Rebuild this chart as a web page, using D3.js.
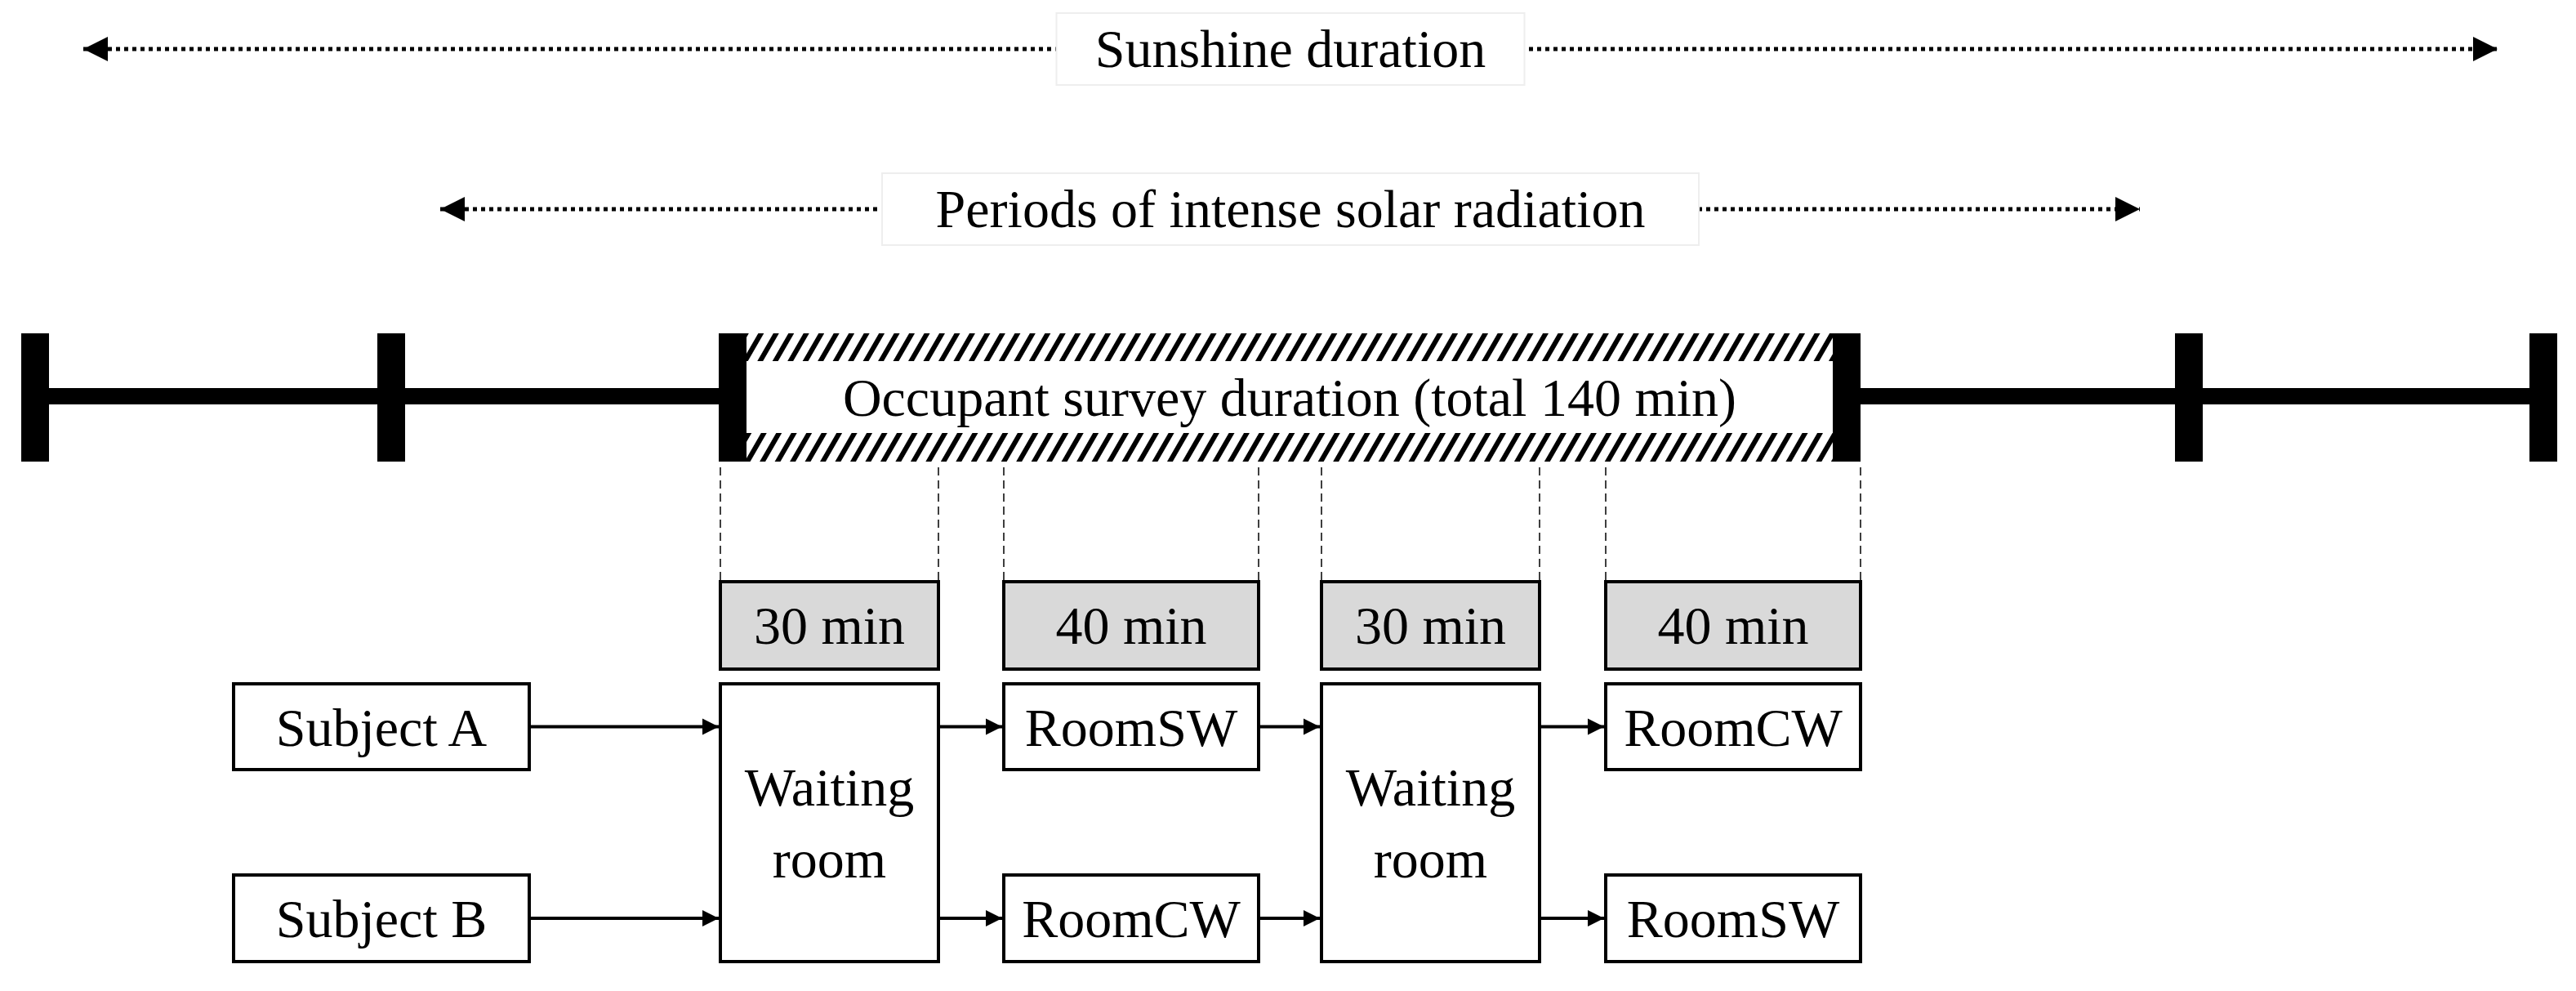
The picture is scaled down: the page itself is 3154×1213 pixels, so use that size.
<!DOCTYPE html>
<html>
<head>
<meta charset="utf-8">
<script src="https://cdn.jsdelivr.net/npm/d3@7"></script>
<style>
  body { margin: 0; background: #fff; }
  text { font-family: 'Liberation Serif', 'Times New Roman', serif; fill: #000; }
</style>
</head>
<body>
<svg id="chart" width="3154" height="1213"></svg>
<script>
// diagram content
var spans = [
  {label: "Sunshine duration", from: 0, to: 6},
  {label: "Periods of intense solar radiation", from: 1, to: 5}
];
var timelineTicks = [0, 1, 2, 3, 4, 5];
var surveyLabel = "Occupant survey duration (total 140 min)";
var phaseMinutes = [30, 40, 30, 40];
var subjects = ["Subject A", "Subject B"];
var roomsA = ["RoomSW", "RoomCW"];
var roomsB = ["RoomCW", "RoomSW"];

var svg = d3.select("#chart");
var S = 2.012;
var FS = 66;

var tx = d3.scaleLinear().domain([0, 5]).range([43, 3114]);
// ticks are not evenly spaced in the picture
var tickX = [43, 479, 897, 2261, 2680, 3114];
var spanX = {0: 62, 6: 3098, 1: 499, 5: 2660};

var defs = svg.append("defs");
defs.append("marker").attr("id", "tri").attr("viewBox", "0 0 10 10")
  .attr("refX", 10).attr("refY", 5).attr("markerWidth", 6).attr("markerHeight", 6)
  .attr("markerUnits", "strokeWidth").attr("orient", "auto-start-reverse")
  .append("path").attr("d", "M0,0L10,5L0,10Z").attr("fill", "#000");
defs.append("marker").attr("id", "tri2").attr("viewBox", "0 0 10 10")
  .attr("refX", 10).attr("refY", 5).attr("markerWidth", 5).attr("markerHeight", 6)
  .attr("markerUnits", "strokeWidth").attr("orient", "auto")
  .append("path").attr("d", "M0,0L10,5L0,10Z").attr("fill", "#000");
var pat = defs.append("pattern").attr("id", "hatch").attr("patternUnits", "userSpaceOnUse")
  .attr("width", 16).attr("height", 16).attr("patternTransform", "rotate(30)");
pat.append("rect").attr("width", 16).attr("height", 16).attr("fill", "#fff");
pat.append("rect").attr("width", 6).attr("height", 16).attr("fill", "#000");

// dotted spans
var spanY = [60, 256], boxW = [573, 1000];
spans.forEach(function(s, i) {
  var x1 = spanX[s.from], x2 = spanX[s.to], y = spanY[i];
  svg.append("line").attr("x1", x1 + 40).attr("x2", x2 - 40).attr("y1", y).attr("y2", y)
    .attr("stroke", "#000").attr("stroke-width", 5).attr("stroke-dasharray", "5,5")
    .attr("marker-start", "url(#tri)").attr("marker-end", "url(#tri)");
  var cx = 1580;
  svg.append("rect").attr("x", cx - boxW[i] / 2).attr("y", y - 44).attr("width", boxW[i]).attr("height", 88)
    .attr("fill", "#fff").attr("stroke", "#eee").attr("stroke-width", 2);
  svg.append("text").attr("x", cx).attr("y", y + 22).attr("text-anchor", "middle")
    .attr("font-size", FS).text(s.label);
});

// timeline
var ly = 485;
svg.append("line").attr("x1", tickX[0]).attr("x2", tickX[5]).attr("y1", ly).attr("y2", ly)
  .attr("stroke", "#000").attr("stroke-width", 20);
svg.append("rect").attr("x", tickX[2]).attr("y", 408).attr("width", tickX[3] - tickX[2]).attr("height", 157)
  .attr("fill", "url(#hatch)");
svg.append("rect").attr("x", tickX[2]).attr("y", 442).attr("width", tickX[3] - tickX[2]).attr("height", 88)
  .attr("fill", "#fff");
svg.append("text").attr("x", (tickX[2] + tickX[3]) / 2).attr("y", 509).attr("text-anchor", "middle")
  .attr("font-size", FS).text(surveyLabel);
svg.selectAll("rect.tick").data(tickX).enter().append("rect").attr("class", "tick")
  .attr("x", function(d) { return d - 17; }).attr("y", 408).attr("width", 34).attr("height", 157)
  .attr("fill", "#000");

// phases: position by cumulative minutes, with gaps between boxes
var phaseX = [[882, 1149], [1229, 1541], [1618, 1885], [1966, 2278]];
var gy = 712, gh = 107;
phaseMinutes.forEach(function(m, i) {
  var p = phaseX[i];
  [p[0], p[1]].forEach(function(x) {
    svg.append("line").attr("x1", x).attr("x2", x).attr("y1", 572).attr("y2", gy)
      .attr("stroke", "#000").attr("stroke-width", 1.5).attr("stroke-dasharray", "10,6");
  });
  svg.append("rect").attr("x", p[0]).attr("y", gy).attr("width", p[1] - p[0]).attr("height", gh)
    .attr("fill", "#d9d9d9").attr("stroke", "#000").attr("stroke-width", 4);
  svg.append("text").attr("x", (p[0] + p[1]) / 2).attr("y", gy + 76).attr("text-anchor", "middle")
    .attr("font-size", FS).text(m + " min");
});

function box(x1, x2, y1, y2, lines) {
  svg.append("rect").attr("x", x1).attr("y", y1).attr("width", x2 - x1).attr("height", y2 - y1)
    .attr("fill", "#fff").attr("stroke", "#000").attr("stroke-width", 4);
  var cy = (y1 + y2) / 2, lh = 88;
  lines.forEach(function(t, k) {
    svg.append("text").attr("x", (x1 + x2) / 2)
      .attr("y", cy + 23 + (k - (lines.length - 1) / 2) * lh)
      .attr("text-anchor", "middle").attr("font-size", FS).text(t);
  });
}
function arrow(x1, x2, y) {
  svg.append("line").attr("x1", x1).attr("x2", x2 - 2).attr("y1", y).attr("y2", y)
    .attr("stroke", "#000").attr("stroke-width", 4).attr("marker-end", "url(#tri2)");
}

var rowY = [[837, 942], [1071, 1177]];
var subjX = [286, 648];
subjects.forEach(function(s, i) {
  var rooms = i === 0 ? roomsA : roomsB;
  var y = (rowY[i][0] + rowY[i][1]) / 2;
  box(subjX[0], subjX[1], rowY[i][0], rowY[i][1], [s]);
  box(phaseX[1][0], phaseX[1][1], rowY[i][0], rowY[i][1], [rooms[0]]);
  box(phaseX[3][0], phaseX[3][1], rowY[i][0], rowY[i][1], [rooms[1]]);
  arrow(subjX[1], phaseX[0][0], y);
  arrow(phaseX[0][1], phaseX[1][0], y);
  arrow(phaseX[1][1], phaseX[2][0], y);
  arrow(phaseX[2][1], phaseX[3][0], y);
});
box(phaseX[0][0], phaseX[0][1], rowY[0][0], rowY[1][1], ["Waiting", "room"]);
box(phaseX[2][0], phaseX[2][1], rowY[0][0], rowY[1][1], ["Waiting", "room"]);
</script>
</body>
</html>
